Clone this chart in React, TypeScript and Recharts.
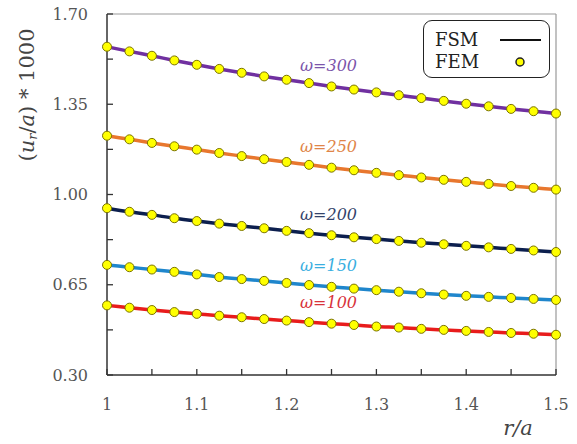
import { LabelList, Legend, Line, LineChart, ReferenceLine, XAxis, YAxis } from "recharts";

const rValues = [
  1, 1.025, 1.05, 1.075, 1.1, 1.125, 1.15, 1.175, 1.2, 1.225, 1.25, 1.275, 1.3, 1.325, 1.35, 1.375, 1.4,
  1.425, 1.45, 1.475, 1.5,
];

const w300 = [
  1.573, 1.555, 1.538, 1.52, 1.503, 1.487, 1.472, 1.458, 1.445, 1.432, 1.419, 1.407, 1.396, 1.385, 1.374,
  1.363, 1.352, 1.342, 1.332, 1.323, 1.314,
];
const w250 = [
  1.228, 1.214, 1.2, 1.187, 1.174, 1.161, 1.149, 1.137, 1.126, 1.115, 1.104, 1.094, 1.084, 1.075, 1.066,
  1.057, 1.049, 1.041, 1.033, 1.026, 1.019,
];
const w200 = [
  0.947, 0.933, 0.921, 0.908, 0.897, 0.887, 0.878, 0.869, 0.859, 0.85, 0.842, 0.834, 0.827, 0.82, 0.813,
  0.807, 0.801, 0.795, 0.789, 0.783, 0.777,
];
const w150 = [
  0.727, 0.718, 0.709, 0.7, 0.69, 0.68, 0.672, 0.665, 0.657, 0.649, 0.642, 0.635, 0.629, 0.623, 0.617,
  0.612, 0.607, 0.603, 0.599, 0.595, 0.591,
];
const w100 = [
  0.57, 0.561, 0.552, 0.544, 0.537, 0.53, 0.524, 0.517, 0.511, 0.505, 0.499, 0.494, 0.488, 0.484, 0.479,
  0.475, 0.471, 0.467, 0.463, 0.46, 0.456,
];

const yTicks = [0.3, 0.475, 0.65, 0.825, 1.0, 1.175, 1.35, 1.525, 1.7];
const xTicks = [1, 1.05, 1.1, 1.15, 1.2, 1.25, 1.3, 1.35, 1.4, 1.45, 1.5];
const xTickLabels = ["1", "1.1", "1.2", "1.3", "1.4", "1.5"];

const series = [
  { key: "w300", name: "ω=300", values: w300, color: "#7030A0", labelColor: "#7B55AA" },
  { key: "w250", name: "ω=250", values: w250, color: "#E8772E", labelColor: "#E08548" },
  { key: "w200", name: "ω=200", values: w200, color: "#0C1F4E", labelColor: "#34436A" },
  { key: "w150", name: "ω=150", values: w150, color: "#1F86CC", labelColor: "#3AAEDF" },
  { key: "w100", name: "ω=100", values: w100, color: "#E81C1C", labelColor: "#D8323A" },
];

const data = rValues.map((r, i) => {
  const row: Record<string, number> = { r };
  series.forEach((s) => {
    row[s.key] = s.values[i];
  });
  return row;
});

const font = "'DejaVu Serif', serif";

const YTick = ({ x, y, payload, index }: any) => (
  <g>
    <line x1={x} y1={y} x2={x + 6} y2={y} stroke="#333" strokeWidth={1.3} />
    {index % 2 === 0 && (
      <text x={x - 19} y={y} textAnchor="end" dominantBaseline="central" fontFamily={font} fontSize={16} fill="#555">
        {payload.value.toFixed(2)}
      </text>
    )}
  </g>
);

const XTick = ({ x, y, index }: any) => (
  <g>
    <line x1={x} y1={y} x2={x} y2={y - 6} stroke="#333" strokeWidth={1.3} />
    {index % 2 === 0 && (
      <text x={x} y={y + 29} textAnchor="middle" dominantBaseline="central" fontFamily={font} fontSize={16} fill="#555">
        {xTickLabels[index / 2]}
      </text>
    )}
  </g>
);

const LegendBox = () => (
  <div
    style={{
      width: 125,
      height: 56,
      border: "1.5px solid #222",
      borderRadius: 9,
      background: "#fff",
      position: "relative",
      fontFamily: font,
      fontSize: 18,
      lineHeight: "22px",
      color: "#222",
    }}
  >
    <div style={{ position: "absolute", left: 11, top: 8 }}>FSM</div>
    <div style={{ position: "absolute", left: 11, top: 30 }}>FEM</div>
    <svg width={125} height={56} style={{ position: "absolute", left: 0, top: 0 }}>
      <line x1={76} y1={19} x2={117} y2={19} stroke="#111" strokeWidth={2} />
      <circle cx={96} cy={41} r={4} fill="#FFFF00" stroke="#222" strokeWidth={1.5} />
    </svg>
  </div>
);

export default function App() {
  return (
    <div style={{ position: "absolute", left: 0, top: 0 }}>
      <LineChart width={577} height={444} data={data} margin={{ top: 14, right: 21, bottom: 0, left: 0 }}>
        <XAxis
          dataKey="r"
          type="number"
          domain={[1, 1.5]}
          ticks={xTicks}
          height={69}
          tickSize={0}
          tickMargin={0}
          tickLine={false}
          tick={<XTick />}
          interval={0}
          axisLine={{ stroke: "#333", strokeWidth: 1.5 }}
          label={{
            content: ({ viewBox }: any) => (
              <text
                x={viewBox.x + viewBox.width - 38}
                y={viewBox.y + 53}
                textAnchor="middle"
                dominantBaseline="central"
                fontFamily={font}
                fontStyle="italic"
                fontSize={21}
                fill="#444"
              >
                r/a
              </text>
            ),
          }}
        />
        <YAxis
          type="number"
          domain={[0.3, 1.7]}
          ticks={yTicks}
          width={107}
          tickSize={0}
          tickMargin={0}
          tickLine={false}
          tick={<YTick />}
          interval={0}
          allowDataOverflow
          axisLine={{ stroke: "#333", strokeWidth: 1.5 }}
          label={{
            content: () => (
              <text
                x={27}
                y={95}
                transform="rotate(-90, 27, 95)"
                textAnchor="middle"
                dominantBaseline="central"
                fontFamily={font}
                fontSize={21}
                fill="#444"
              >
                (<tspan fontStyle="italic">u</tspan>
                <tspan fontStyle="italic" fontSize={13} dy={5}>
                  r
                </tspan>
                <tspan dy={-5}>/</tspan>
                <tspan fontStyle="italic">a</tspan>) * 1000
              </text>
            ),
          }}
        />
        <ReferenceLine y={1.7} stroke="#999" strokeWidth={1.2} />
        <ReferenceLine x={1.5} stroke="#999" strokeWidth={1.2} />
        {series.map((s) => (
          <Line
            key={s.key}
            dataKey={s.key}
            type="monotone"
            stroke={s.color}
            strokeWidth={3.5}
            dot={{ r: 4.5, fill: "#FFFF00", stroke: "#7A7300", strokeWidth: 1 }}
            isAnimationActive={false}
          >
            <LabelList
              dataKey={s.key}
              content={(p: any) =>
                p.index === 10 ? (
                  <text
                    x={p.x - 3}
                    y={p.y - 21}
                    textAnchor="middle"
                    dominantBaseline="central"
                    fontFamily={font}
                    fontStyle="italic"
                    fontSize={16}
                    fill={s.labelColor}
                  >
                    {s.name}
                  </text>
                ) : null
              }
            />
          </Line>
        ))}
        <Legend
          layout="vertical"
          align="center"
          verticalAlign="middle"
          content={<LegendBox />}
          wrapperStyle={{ position: "absolute", left: 423, top: 20, width: 128, height: 59 }}
        />
      </LineChart>
    </div>
  );
}
